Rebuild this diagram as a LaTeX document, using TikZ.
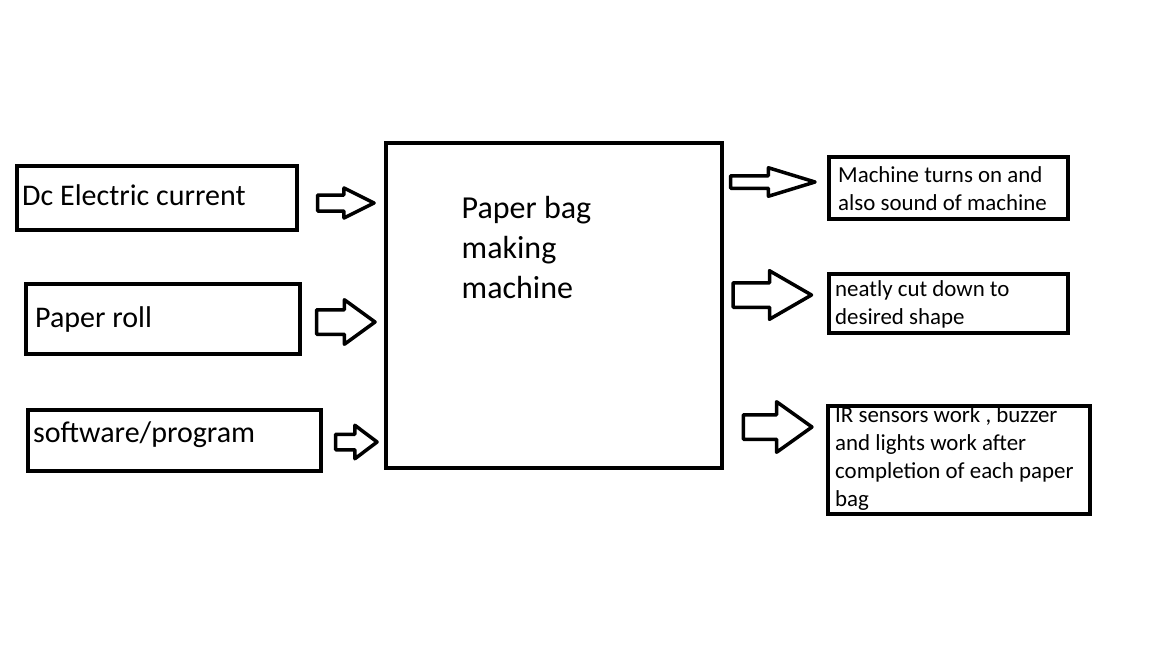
\documentclass[tikz,border=0pt]{standalone}
\usepackage{fontspec}
\setmainfont{Carlito}
\usetikzlibrary{shapes.arrows}
\begin{document}
\begin{tikzpicture}[x=1pt,y=-1pt,
  box/.style={draw=black,line width=4pt},
  flow/.style={single arrow,draw=black,line width=3.5pt,line join=round,
    text height=0pt,text depth=0pt,inner xsep=0pt,anchor=tip},
  bigtext/.style={anchor=base west,align=left,font=\fontsize{30}{36}\selectfont},
  maintext/.style={anchor=base west,align=left,font=\fontsize{32}{40}\selectfont},
  smalltext/.style={anchor=base west,align=left,font=\fontsize{22.9}{28}\selectfont}]
\tikzstyle{every node}+=[inner sep=0pt]
\useasboundingbox (0,0) rectangle (1152,648);
% inputs
\node [box,minimum width=280,minimum height=64] (dc) at (157,198) {};
\node [bigtext] (dcText) at (22,205) {Dc Electric current};
\node [box,minimum width=274,minimum height=70] (roll) at (163,319) {};
\node [bigtext] (rollText) at (35,327) {Paper roll};
\node [box,minimum width=293,minimum height=61] (soft) at (174.5,440.5) {};
\node [bigtext] (softText) at (33,442) {software/program};
% machine (text placed by its last baseline)
\node [box,minimum width=336,minimum height=325] (main) at (554,305.5) {};
\node [maintext] (mainText) at (461.5,298) {Paper bag\\making\\machine};
% outputs
\node [box,minimum width=239,minimum height=62] (turns) at (948.5,188) {};
\node [smalltext] (turnsText) at (838,210) {Machine turns on and\\also sound of machine};
\node [box,minimum width=239,minimum height=59] (cut) at (948.5,303.5) {};
\node [smalltext] (cutText) at (835,324.5) {neatly cut down to\\desired shape};
\node [box,minimum width=262,minimum height=108] (ir) at (959,460) {};
\node [smalltext] (irText) at (835,506.5) {IR sensors work , buzzer\\and lights work after\\completion of each paper\\bag};
% block arrows
\node [flow,minimum height=56.5,inner ysep=6.25,single arrow head extend=7,single arrow tip angle=53] (inDc) at (378,203) {};
\node [flow,minimum height=58.5,inner ysep=10.5,single arrow head extend=10,single arrow tip angle=72] (inRoll) at (378,322) {};
\node [flow,minimum height=41.5,inner ysep=6,single arrow head extend=9,single arrow tip angle=74] (inSoft) at (380,442) {};
\node [flow,minimum height=84.5,inner ysep=4.5,single arrow head extend=8,single arrow tip angle=34] (outTurns) at (821,182) {};
\node [flow,minimum height=78.5,inner ysep=10.5,single arrow head extend=12,single arrow tip angle=60] (outCut) at (815,295) {};
\node [flow,minimum height=68.5,inner ysep=10.5,single arrow head extend=13,single arrow tip angle=71] (outIr) at (815,427) {};
\end{tikzpicture}
\end{document}
